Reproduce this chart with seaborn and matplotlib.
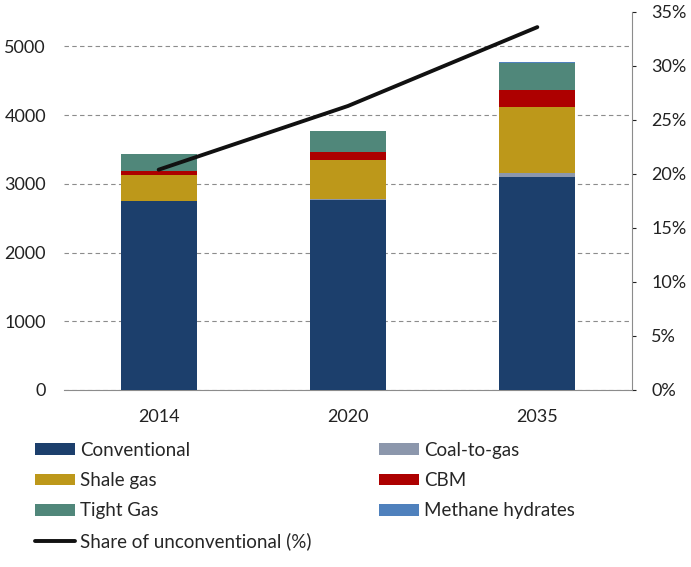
import numpy as np
import pandas as pd
import matplotlib.pyplot as plt
import seaborn as sns
from matplotlib.patches import Patch
from matplotlib.lines import Line2D

# data
years = ['2014', '2020', '2035']
conventional = [2745, 2770, 3105]
coal_to_gas = [8, 15, 50]
shale_gas = [370, 555, 960]
cbm = [70, 130, 245]
tight_gas = [245, 305, 400]
methane_hydrates = [0, 0, 15]
share_unconv = [20.4, 26.3, 33.6]

series = [
    ('Conventional', conventional, '#1C3F6C'),
    ('Coal-to-gas', coal_to_gas, '#8C97AC'),
    ('Shale gas', shale_gas, '#BD981A'),
    ('CBM', cbm, '#AD0000'),
    ('Tight Gas', tight_gas, '#50877A'),
    ('Methane hydrates', methane_hydrates, '#4F81BD'),
]

sns.set_style('white')
plt.rcParams['font.family'] = ['Lato', 'DejaVu Sans']

fig = plt.figure(figsize=(6.91, 5.67), dpi=100)
ax = fig.add_axes([64 / 691, 1 - 390 / 567, (632 - 64) / 691, (390 - 12) / 567])

bottom = np.zeros(len(years))
for name, vals, col in series:
    df = pd.DataFrame({'Year': years, 'Value': vals})
    sns.barplot(data=df, x='Year', y='Value', color=col, bottom=bottom,
                width=0.4, ax=ax, saturation=1, linewidth=0, zorder=3)
    bottom = bottom + np.array(vals)

ax.set_ylim(0, 5500)
ax.set_xlim(-0.5, 2.5)
ax.set_yticks([0, 1000, 2000, 3000, 4000, 5000])
ax.yaxis.grid(True, linestyle=(0, (4, 3)), color='#8C8C8C', linewidth=0.8)
ax.set_axisbelow(True)
ax.set_xlabel('')
ax.set_ylabel('')
for s in ['left', 'top', 'right']:
    ax.spines[s].set_visible(False)
ax.spines['bottom'].set_color('#8C8C8C')
ax.tick_params(axis='y', length=0, labelsize=13, colors='#222222', pad=13)
ax.tick_params(axis='x', length=0, labelsize=13, colors='#222222', pad=14)
ax.set_xticks([-0.5, 0.5, 1.5, 2.5], minor=True)
ax.tick_params(axis='x', which='minor', length=4, color='#8C8C8C', direction='out')

ax2 = ax.twinx()
line_df = pd.DataFrame({'x': [0, 1, 2], 'share': share_unconv})
sns.lineplot(data=line_df, x='x', y='share', color='#111111', linewidth=2.8, ax=ax2)
ax2.set_ylim(0, 35)
ax2.set_xlim(-0.5, 2.5)
ax2.set_yticks(range(0, 40, 5))
ax2.set_yticklabels([f'{v}%' for v in range(0, 40, 5)])
ax2.set_ylabel('')
for s in ['left', 'top', 'bottom']:
    ax2.spines[s].set_visible(False)
ax2.spines['right'].set_color('#8C8C8C')
ax2.tick_params(axis='y', length=3, labelsize=13, colors='#222222', pad=11)
for t in ax2.yaxis.get_ticklines():
    t.set_color('#8C8C8C')

handles = {name: Patch(facecolor=col, edgecolor='none') for name, _, col in series}
line_h = Line2D([0], [0], color='#111111', linewidth=2.8)
order = ['Conventional', 'Shale gas', 'Tight Gas', None,
         'Coal-to-gas', 'CBM', 'Methane hydrates']
hs, ls = [], []
for n in order:
    if n is None:
        hs.append(line_h)
        ls.append('Share of unconventional (%)')
    else:
        hs.append(handles[n])
        ls.append(n)
fig.legend(hs, ls, ncol=2, loc='upper left', bbox_to_anchor=(35 / 691, 1 - 442 / 567),
           frameon=False, fontsize=13.5, handlelength=2.15, handleheight=0.6,
           columnspacing=3.6, labelspacing=0.7, handletextpad=0.25,
           borderaxespad=0, borderpad=0)

fig.savefig('out.png', dpi=100)
